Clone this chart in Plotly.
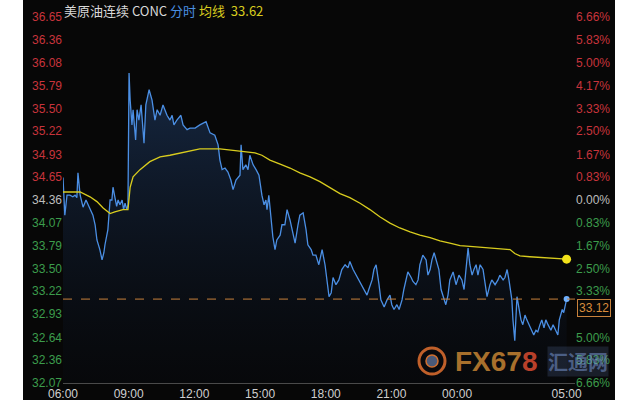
import plotly.graph_objects as go

# ---------------- data (minutes after 06:00, price) ----------------
minutes = [0, 5, 11, 19, 27, 33, 38, 41, 47, 55, 63, 74, 82, 88, 93, 101, 107, 112, 115, 123,
           129, 134, 137, 142, 147, 151, 156, 162, 166, 170, 175, 178, 181, 184, 186, 189, 192, 197, 199, 203,
           208, 214, 222, 227, 236, 244, 252, 258, 266, 274, 285, 293, 299, 304, 312, 323, 329, 340, 348, 362,
           375, 392, 403, 416, 425, 430, 436, 444, 452, 460, 466, 474, 485, 488, 493, 501, 507, 512, 521, 529,
           537, 545, 551, 556, 559, 564, 570, 575, 581, 586, 595, 600, 608, 614, 622, 630, 636, 644, 649, 658,
           666, 671, 680, 685, 693, 701, 710, 718, 723, 729, 735, 740, 748, 756, 764, 773, 781, 786, 795, 803,
           808, 816, 825, 833, 838, 847, 852, 858, 866, 871, 880, 888, 896, 901, 907, 915, 921, 929, 934, 940,
           945, 954, 959, 967, 973, 978, 986, 995, 1000, 1006, 1011, 1017, 1025, 1030, 1036, 1044, 1049, 1055, 1060, 1069,
           1077, 1085, 1093, 1099, 1104, 1110, 1115, 1121, 1126, 1132, 1137, 1143, 1151, 1156, 1162, 1170, 1175, 1184, 1192, 1197,
           1206, 1211, 1217, 1222, 1225, 1230, 1233, 1238, 1244, 1249, 1255, 1260, 1266, 1271, 1277, 1282, 1290, 1296, 1301, 1307,
           1312, 1318, 1323, 1329, 1337, 1343, 1351, 1356, 1360, 1364, 1368, 1372, 1376, 1380]
prices = [34.64, 34.17, 34.42, 34.42, 34.40, 34.42, 34.39, 34.70, 34.42, 34.27, 34.36, 34.24, 34.17, 34.05, 33.86, 33.74, 33.61, 33.70, 33.80, 33.99,
          34.36, 34.36, 34.52, 34.40, 34.28, 34.36, 34.30, 34.36, 34.24, 34.32, 34.24, 34.30, 35.95, 35.61, 35.49, 35.30, 35.49, 35.17, 35.11, 35.49,
          35.36, 35.55, 35.07, 35.55, 35.74, 35.61, 35.36, 35.49, 35.42, 35.55, 35.42, 35.36, 35.42, 35.30, 35.36, 35.42, 35.30, 35.24, 35.26, 35.26,
          35.30, 35.34, 35.20, 35.17, 35.05, 34.86, 34.74, 34.76, 34.71, 34.61, 34.49, 34.61, 34.67, 35.05, 34.74, 34.80, 34.74, 34.92, 34.80, 34.74,
          34.67, 34.42, 34.30, 34.36, 34.24, 34.42, 34.11, 33.90, 33.74, 33.86, 33.92, 34.05, 34.05, 34.24, 34.11, 33.92, 33.82, 34.05, 34.17, 34.20,
          33.99, 33.80, 33.74, 33.67, 33.67, 33.55, 33.74, 33.55, 33.36, 33.15, 33.20, 33.39, 33.30, 33.36, 33.49, 33.55, 33.51, 33.59, 33.49, 33.42,
          33.39, 33.32, 33.24, 33.17, 33.24, 33.36, 33.49, 33.55, 33.30, 33.11, 33.02, 33.11, 33.17, 33.05, 32.99, 33.05, 32.99, 33.11, 33.24, 33.36,
          33.46, 33.39, 33.34, 33.30, 33.36, 33.55, 33.67, 33.61, 33.42, 33.49, 33.61, 33.70, 33.55, 33.49, 33.24, 33.11, 33.05, 33.17, 33.36, 33.46,
          33.30, 33.42, 33.36, 33.24, 33.49, 33.76, 33.55, 33.42, 33.49, 33.55, 33.42, 33.55, 33.49, 33.30, 33.15, 33.30, 33.36, 33.30, 33.36, 33.42,
          33.36, 33.39, 33.49, 33.36, 33.24, 33.11, 32.86, 32.60, 33.15, 32.99, 32.86, 32.80, 32.92, 32.86, 32.80, 32.73, 32.67, 32.73, 32.71, 32.80,
          32.86, 32.76, 32.86, 32.80, 32.73, 32.80, 32.71, 32.67, 32.86, 32.92, 32.99, 32.95, 33.05, 33.12]

avg_minutes = [0, 47, 74, 93, 110, 129, 142, 164, 178, 184, 192, 211, 238, 266, 293, 321, 375, 430, 485, 526,
               545, 567, 595, 622, 649, 677, 704, 732, 759, 786, 814, 841, 868, 896, 923, 951, 978, 1006, 1033, 1060,
               1088, 1115, 1143, 1170, 1197, 1225, 1238, 1252, 1279, 1307, 1334, 1362, 1380]
avg_prices = [34.46, 34.46, 34.40, 34.34, 34.26, 34.19, 34.21, 34.24, 34.24, 34.52, 34.65, 34.74, 34.84, 34.90, 34.92, 34.95, 35.00, 35.00, 34.97, 34.95,
              34.92, 34.86, 34.81, 34.76, 34.70, 34.65, 34.59, 34.51, 34.44, 34.39, 34.32, 34.24, 34.15, 34.07, 34.01, 33.96, 33.92, 33.89, 33.85, 33.82,
              33.79, 33.78, 33.77, 33.76, 33.75, 33.74, 33.69, 33.66, 33.65, 33.64, 33.63, 33.62, 33.62]

prev_close = 34.36
last_price = 33.12
last_avg = 33.62

price_ticks = [32.07, 32.36, 32.64, 32.93, 33.22, 33.50, 33.79, 34.07, 34.36,
               34.65, 34.93, 35.22, 35.50, 35.79, 36.08, 36.36, 36.65]
pct_labels = ["6.66%", "5.83%", "5.00%", "", "3.33%", "2.50%", "1.67%", "0.83%", "0.00%",
              "0.83%", "1.67%", "2.50%", "3.33%", "4.17%", "5.00%", "5.83%", "6.66%"]

time_ticks = [0, 180, 360, 540, 720, 900, 1080, 1380]
time_labels = ["06:00", "09:00", "12:00", "15:00", "18:00", "21:00", "00:00", "05:00"]

title_name = "美原油连续 CONC"

# ---------------- styling ----------------
RED = "#c8343c"
GREEN = "#3c9c4c"
GRAY = "#bdbdbd"
BG = "#070707"
FONT = "Liberation Sans, Arial, sans-serif"
CJK = "Noto Sans CJK SC, sans-serif"


def tick_color(v):
    if abs(v - prev_close) < 1e-6:
        return GRAY
    return RED if v > prev_close else GREEN


left_text = [f'<span style="color:{tick_color(v)}">{v:.2f}</span>' for v in price_ticks]
right_text = [f'<span style="color:{tick_color(v)}">{t}</span>' for v, t in zip(price_ticks, pct_labels)]

ymin, ymax = price_ticks[0], price_ticks[-1]
xmax = 1403

fig = go.Figure()

# baseline for gradient fill
fig.add_trace(go.Scatter(x=minutes, y=[ymin] * len(minutes), mode="lines",
                         line=dict(width=0), hoverinfo="skip", showlegend=False))
fig.add_trace(go.Scatter(
    x=minutes, y=prices, mode="lines",
    line=dict(color="#4b8fe4", width=1.3),
    fill="tonexty",
    fillgradient=dict(type="vertical", start=ymin, stop=36.0,
                      colorscale=[[0, "rgba(8,14,26,0.2)"], [1, "rgba(36,70,120,0.55)"]]),
    showlegend=False))
fig.add_trace(go.Scatter(x=minutes[-1:], y=prices[-1:], mode="markers",
                         marker=dict(color="#6fb0ff", size=6), showlegend=False))
fig.add_trace(go.Scatter(x=avg_minutes, y=avg_prices, mode="lines",
                         line=dict(color="#d8cc1e", width=1.3), showlegend=False))
fig.add_trace(go.Scatter(x=avg_minutes[-1:], y=avg_prices[-1:], mode="markers",
                         marker=dict(color="#f2e21a", size=9), showlegend=False))
# last price dashed line (on the right axis)
fig.add_trace(go.Scatter(x=[0, xmax], y=[last_price, last_price], mode="lines", yaxis="y2",
                         line=dict(color="#c8823c", width=1, dash="dash"), showlegend=False))

# black panel behind the chart
L, R, T, B, W, H = 63, 65, 17, 17, 640, 400
pw, ph = W - L - R, H - T - B


def px_x(x):
    return (x - L) / pw


def px_y(y):
    return (H - B - y) / ph


shapes = [
    dict(type="rect", xref="paper", yref="paper", x0=px_x(23), x1=px_x(615), y0=px_y(400), y1=px_y(0),
         fillcolor=BG, line=dict(width=0), layer="below"),
    dict(type="circle", xref="paper", yref="paper", x0=px_x(419), x1=px_x(445), y0=px_y(374), y1=px_y(348),
         line=dict(color="#c0602a", width=3)),
    dict(type="circle", xref="paper", yref="paper", x0=px_x(426), x1=px_x(438), y0=px_y(367), y1=px_y(355),
         fillcolor="#4a5a78", line=dict(color="#d07030", width=1.5)),
]

annotations = [
    dict(xref="paper", yref="paper", x=px_x(62), y=px_y(10), xanchor="left", yanchor="middle", showarrow=False,
         text=f'<span style="color:#d8d8d8">{title_name}</span> <span style="color:#4a90e2">分时</span> '
              f'<span style="color:#d8cc1e">均线</span>  <span style="color:#d8cc1e">{last_avg:.2f}</span>',
         font=dict(family=CJK, size=13)),
    dict(xref="paper", yref="y", x=1.0, y=last_price, xanchor="left", yanchor="top", showarrow=False,
         text=f"{last_price:.2f}", font=dict(family=FONT, size=12, color="#d88c3c"),
         bgcolor=BG, bordercolor="#c8823c", borderwidth=1, borderpad=1, xshift=2),
    dict(xref="paper", yref="paper", x=px_x(496), y=px_y(361), xanchor="center", yanchor="middle", showarrow=False,
         text='FX67<span style="color:#b8402a">8</span>',
         font=dict(family=FONT, size=28, color="#a8702c", weight="bold")),
    dict(xref="paper", yref="paper", x=px_x(578), y=px_y(361), xanchor="center", yanchor="middle", showarrow=False,
         text="汇通网", font=dict(family=CJK, size=20, color="rgba(120,150,210,0.55)", weight="bold"),
         bgcolor="rgba(110,140,200,0.18)", borderpad=0),
]

fig.update_layout(
    width=W, height=H, autosize=False,
    margin=dict(l=L, r=R, t=T, b=B, autoexpand=False),
    paper_bgcolor="white", plot_bgcolor=BG,
    font=dict(family=FONT, size=12, color=GRAY),
    xaxis=dict(range=[0, xmax], tickvals=time_ticks, ticktext=time_labels, automargin=False,
               tickfont=dict(size=12, color="#cfcfcf"), showgrid=False, zeroline=False,
               showline=True, linecolor="#4a4a4a", ticks=""),
    yaxis=dict(range=[ymin, ymax], tickvals=price_ticks, ticktext=left_text, automargin=False,
               showgrid=False, zeroline=False, ticks="", tickfont=dict(size=12)),
    yaxis2=dict(range=[ymin, ymax], tickvals=price_ticks, ticktext=right_text, overlaying="y", side="right",
                automargin=False, showgrid=False, zeroline=False, ticks="", tickfont=dict(size=12)),
    shapes=shapes, annotations=annotations, showlegend=False,
)

fig.write_html("out.html", config={"displayModeBar": False},
               post_script="document.body.style.margin='0';document.body.style.padding='0';")
